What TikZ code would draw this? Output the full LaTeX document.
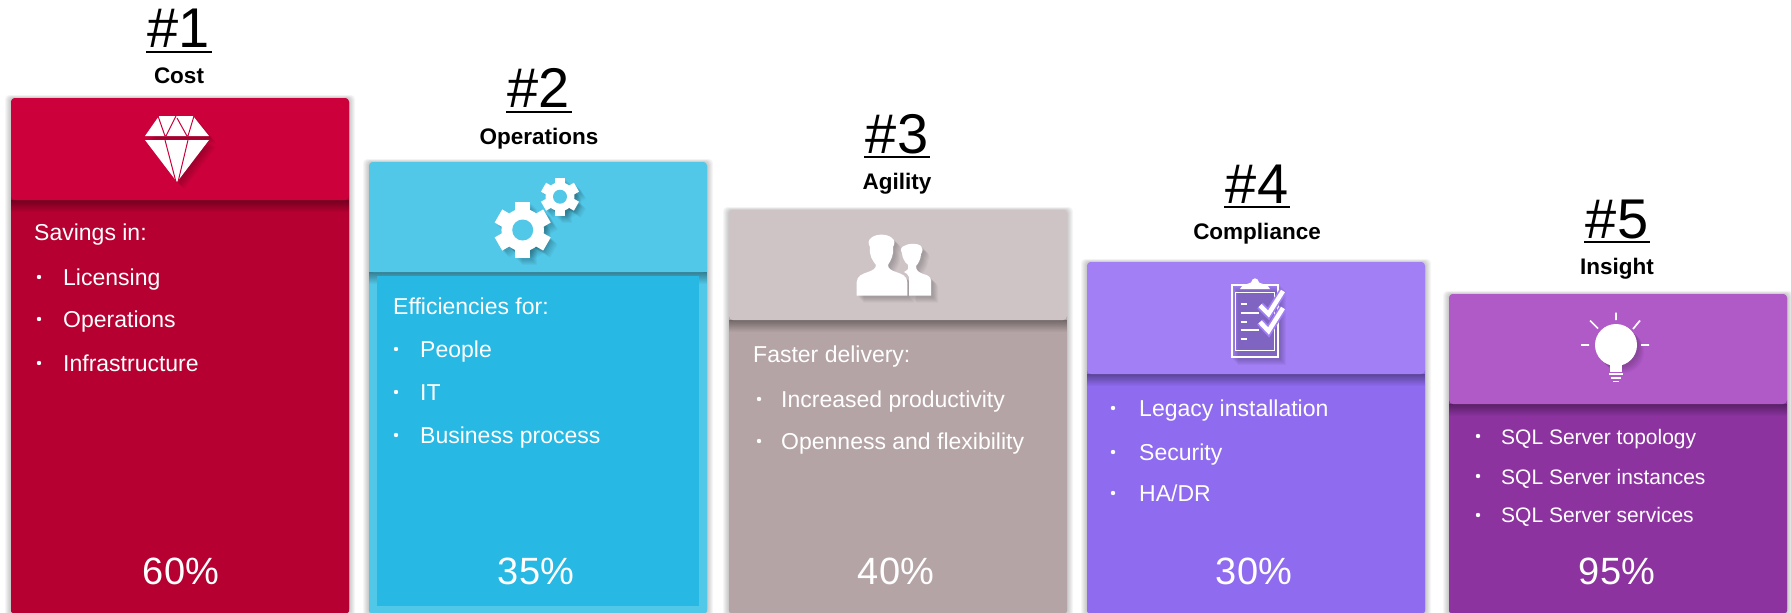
\documentclass[tikz,border=0pt]{standalone}
\usepackage{fontspec}
\setmainfont{Liberation Sans}
\definecolor{hA}{HTML}{CC003B}\definecolor{bA}{HTML}{B50031}
\definecolor{hB}{HTML}{52C8E8}\definecolor{bB}{HTML}{27B8E3}
\definecolor{hC}{HTML}{CEC4C6}\definecolor{bC}{HTML}{B5A4A5}
\definecolor{hD}{HTML}{A27FF5}\definecolor{bD}{HTML}{8F6BF0}
\definecolor{hE}{HTML}{B05AC8}\definecolor{bE}{HTML}{8C33A0}
\tikzset{
 rank/.style={inner sep=0pt,anchor=base,font=\fontsize{56}{60}\selectfont,text=black},
 topic/.style={inner sep=0pt,anchor=base,font=\bfseries\fontsize{22.5}{26}\selectfont,text=black},
 bodytext/.style={inner sep=0pt,anchor=base west,font=\fontsize{23}{27}\selectfont,text=white},
 smalltext/.style={inner sep=0pt,anchor=base west,font=\fontsize{21}{25}\selectfont,text=white},
 percent/.style={inner sep=0pt,anchor=base,font=\fontsize{38}{42}\selectfont,text=white},
 bulletdot/.style={fill=white,draw=none},
 rule/.style={line width=2pt,black},
 iconshadow/.style={fill=black,draw=none,opacity=.035},
 iconfill/.style={fill=white,draw=none}
}
% #1 left, #2 top, #3 header bottom, #4 header colour, #5 body colour
\newcommand\cardbox[5]{
 \foreach \d in {1,...,6}{
  \fill[black,opacity=.035,rounded corners=4pt] ({#1-\d},{#2-\d/2}) rectangle ({#1+338+\d},{613+\d});
 }
 \fill[#4,rounded corners=4pt] (#1,#2) rectangle ({#1+338},613);
 \fill[#5,rounded corners=2pt] (#1,{#3-6}) rectangle ({#1+338},613);
 \foreach \d in {0,...,11}{
  \fill[black,opacity={(12-\d)*.03}] (#1,{#3+\d}) rectangle ({#1+338},{#3+\d+1});
 }
 \fill[#4,rounded corners=4pt] (#1,#2) rectangle ({#1+338},#3);
}
\newcommand\bull[2]{\fill[bulletdot] (#1,#2) circle (2.2);}
\newcommand\gearshape[4]{
 \fill[#4] (#1,#2) circle ({.76*#3});
 \foreach \a in {0,60,120}{
  \fill[#4,rotate around={\a:(#1,#2)}] ({#1-.27*#3},{#2-#3}) rectangle ({#1+.27*#3},{#2+#3});
 }
}
\newcommand\diamondpath{(159,116)--(193,116)--(209,136)--(145,136)--cycle (145,140)--(209,140)--(177,182)--cycle}
\newcommand\personA{(856.7,295.7)--(856.7,282) .. controls (857,276) and (862,274) .. (868,272) .. controls (872,270.5) and (876,269) .. (876,265) .. controls (872,260) and (869,255) .. (870,247) .. controls (868,244) and (868,240) .. (871,238) .. controls (876,233.5) and (887,233.5) .. (892,238) .. controls (895,240) and (895,244) .. (893,247) .. controls (894,255) and (891,260) .. (888,265) .. controls (888,269) and (892,270.5) .. (896,272) .. controls (902,274) and (907,276) .. (907.3,282) -- (907.3,295.7) -- cycle}
\newcommand\personB{(909,295.7)--(909,277) .. controls (908,274) and (906,273) .. (904,272) .. controls (907,270) and (909,270) .. (908,265) .. controls (904,262) and (902,256) .. (902,253) .. controls (900,250) and (901,247) .. (904,246) .. controls (908,243) and (918,243) .. (921,246) .. controls (923,248) and (923,251) .. (921,254) .. controls (921,259) and (918,264) .. (916,266) .. controls (916,271) and (919,272) .. (923,274) .. controls (928,275) and (931,277) .. (931,281) -- (931,295.7) -- cycle}
\newcommand\checkmarks[2]{
 \draw[#1,line width=#2pt,line join=miter] (1260,305.5)--(1268.5,314)--(1283,291);
 \draw[#1,line width=#2pt,line join=miter] (1260,322)--(1268.5,331)--(1283,308);
}
\begin{document}
\begin{tikzpicture}[x=1pt,y=-1pt]
\useasboundingbox (0,0) rectangle (1791,613);
\fill[white] (0,0) rectangle (1791,613);
\cardbox{11}{98}{200}{hA}{bA}
\cardbox{369}{162}{272}{hB}{hB}
\fill[bB] (377,276) rectangle (699,606);
\cardbox{729}{210}{320}{hC}{bC}
\cardbox{1087}{262}{374}{hD}{bD}
\cardbox{1449}{294}{404}{hE}{bE}
% headings
\node[rank] (rA) at (179,47) {\#1};
\draw[rule] (146,52)--(212,52);
\node[topic] (tA) at (179,83) {Cost};
\node[rank] (rB) at (539,107) {\#2};
\draw[rule] (506,112)--(572,112);
\node[topic] (tB) at (539,144) {Operations};
\node[rank] (rC) at (897,153) {\#3};
\draw[rule] (864,157)--(930,157);
\node[topic] (tC) at (897,189) {Agility};
\node[rank] (rD) at (1257,203) {\#4};
\draw[rule] (1224,207)--(1290,207);
\node[topic] (tD) at (1257,239) {Compliance};
\node[rank] (rE) at (1617,238) {\#5};
\draw[rule] (1584,242)--(1650,242);
\node[topic] (tE) at (1617,274) {Insight};
% diamond
\foreach \d in {2,...,7}{\fill[iconshadow,shift={(\d,\d)}] \diamondpath;}
\fill[iconfill] \diamondpath;
\draw[hA,line width=1pt] (158,116)--(165,136) (176,116)--(166,136) (177,118)--(187,136) (194,116)--(188,136);
\draw[hA,line width=1pt] (165,140)--(176,182) (188,140)--(178,182);
% gears
\foreach \d in {2,...,7}{
 \begin{scope}[shift={(\d,\d)}]
 \gearshape{522.7}{230}{28}{iconshadow}
 \gearshape{560}{196.7}{19}{iconshadow}
 \end{scope}
}
\gearshape{522.7}{230}{28}{iconfill}
\fill[hB] (522.7,230) circle (10.5);
\gearshape{560}{196.7}{19}{iconfill}
\fill[hB] (560,196.7) circle (7);
% people
\foreach \d in {2,...,7}{\fill[iconshadow,shift={(\d,\d)}] \personB; \fill[iconshadow,shift={(\d,\d)}] \personA;}
\fill[iconfill] \personB;
\fill[iconfill] \personA;
% clipboard
\foreach \d in {2,...,7}{\fill[iconshadow,shift={(\d,\d)}] (1231,284.3) rectangle (1279,357.7);}
\draw[white,line width=2pt] (1232,285.3) rectangle (1278,356.7);
\draw[white,line width=1pt] (1235.5,292) rectangle (1274.5,350.5);
\fill[white] (1240,289) .. controls (1241,285) and (1248,284) .. (1251,282.5) .. controls (1252,277) and (1258,277) .. (1259,282.5) .. controls (1262,284) and (1269,285) .. (1270,289) -- cycle;
\foreach \yy/\xe in {304/1247,312.7/1259,321.7/1247,330.3/1259,339.3/1247}{
 \draw[white,line width=1.7pt] (1240.5,\yy)--(\xe,\yy);
}
\checkmarks{hD}{8}
\checkmarks{white}{4.5}
% bulb
\foreach \d in {2,...,7}{\fill[iconshadow,shift={(\d,\d)}] (1616,345) circle (21);}
\fill[iconfill] (1616,345) circle (21);
\fill[iconfill] (1610,360) rectangle (1622,371.5);
\fill[iconfill] (1609,373) rectangle (1623,374.5);
\fill[iconfill] (1611,377) rectangle (1621,378.5);
\fill[iconfill] (1613,380.5) rectangle (1619,382);
\draw[white,line width=1.7pt] (1616,312.5)--(1616,320) (1590,320.5)--(1598,328.5) (1640,320.5)--(1633,329) (1581,345)--(1589,345) (1641,345)--(1649,345);
% card 1 text
\node[bodytext] (a0) at (34,240) {Savings in:};
\bull{39}{277}\node[bodytext] (a1) at (63,285) {Licensing};
\bull{39}{319}\node[bodytext] (a2) at (63,327) {Operations};
\bull{39}{363}\node[bodytext] (a3) at (63,371) {Infrastructure};
\node[percent] (pA) at (181,584) {60\%};
% card 2
\node[bodytext] (b0) at (393,314) {Efficiencies for:};
\bull{396}{349}\node[bodytext] (b1) at (420,357) {People};
\bull{396}{392}\node[bodytext] (b2) at (420,400) {IT};
\bull{396}{435}\node[bodytext] (b3) at (420,443) {Business process};
\node[percent] (pB) at (536,584) {35\%};
% card 3
\node[bodytext] (c0) at (753,362) {Faster delivery:};
\bull{759}{399}\node[bodytext] (c1) at (781,407) {Increased productivity};
\bull{759}{441}\node[bodytext] (c2) at (781,449) {Openness and flexibility};
\node[percent] (pC) at (896,584) {40\%};
% card 4
\bull{1113}{408}\node[bodytext] (d1) at (1139,416) {Legacy installation};
\bull{1113}{452}\node[bodytext] (d2) at (1139,460) {Security};
\bull{1113}{493}\node[bodytext] (d3) at (1139,501) {HA/DR};
\node[percent] (pD) at (1254,584) {30\%};
% card 5
\bull{1478}{436}\node[smalltext] (e1) at (1501,444) {SQL Server topology};
\bull{1478}{476}\node[smalltext] (e2) at (1501,484) {SQL Server instances};
\bull{1478}{515}\node[smalltext] (e3) at (1501,522) {SQL Server services};
\node[percent] (pE) at (1617,584) {95\%};
\end{tikzpicture}
\end{document}
